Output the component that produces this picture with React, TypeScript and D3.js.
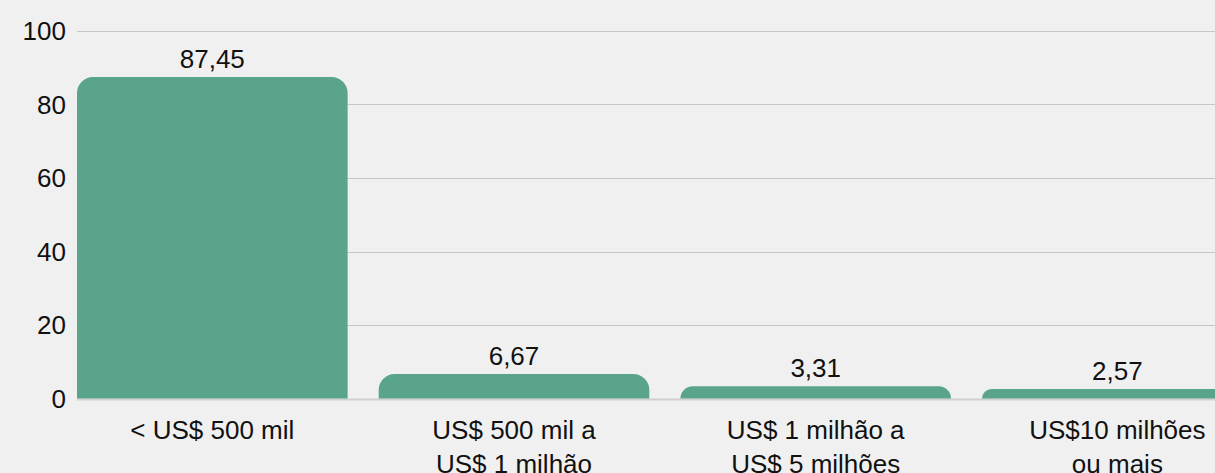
import React from "react";
import * as d3 from "d3";

const categories: string[][] = [
  ["< US$ 500 mil"],
  ["US$ 500 mil a", "US$ 1 milhão"],
  ["US$ 1 milhão a", "US$ 5 milhões"],
  ["US$10 milhões", "ou mais"],
];
const values: number[] = [87.45, 6.67, 3.31, 2.57];
const yTicks: number[] = [0, 20, 40, 60, 80, 100];

const W = 1215;
const H = 473;
const FONT = "'Liberation Sans', Arial, Helvetica, sans-serif";

function topRoundedBar(x: number, y: number, w: number, h: number, r: number) {
  const rr = Math.min(r, h, w / 2);
  const p = d3.path();
  p.moveTo(x, y + h);
  p.lineTo(x, y + rr);
  p.arcTo(x, y, x + rr, y, rr);
  p.lineTo(x + w - rr, y);
  p.arcTo(x + w, y, x + w, y + rr, rr);
  p.lineTo(x + w, y + h);
  p.closePath();
  return p.toString();
}

export default function App() {
  const x = d3
    .scaleBand<number>()
    .domain(d3.range(categories.length))
    .range([77, 1252.7])
    .paddingInner(0.103)
    .paddingOuter(0);
  const y = d3.scaleLinear().domain([0, 100]).range([398.5, 31]);
  const fmt = (v: number) => d3.format(".2f")(v).replace(".", ",");

  return (
    <svg
      width={W}
      height={H}
      style={{ position: "absolute", left: 0, top: 0 }}
      fontFamily={FONT}
    >
      <rect x={0} y={0} width={W} height={H} fill="#f0f0f0" />
      {yTicks.map((t) => (
        <g key={t}>
          <line
            x1={77}
            x2={W}
            y1={Math.round(y(t)) + 0.5}
            y2={Math.round(y(t)) + 0.5}
            stroke={t === 0 ? "#d0d0d0" : "#c6c6c6"}
            strokeWidth={t === 0 ? 2 : 1}
          />
          <text
            x={66}
            y={y(t)}
            textAnchor="end"
            dominantBaseline="central"
            fontSize={26}
            fill="#111"
          >
            {t}
          </text>
        </g>
      ))}
      {values.map((v, i) => {
        const bx = x(i)!;
        const bw = x.bandwidth();
        const top = y(v);
        const h = y(0) - top;
        return (
          <g key={i}>
            <path d={topRoundedBar(bx, top, bw, h, 16)} fill="#59a48b" />
            <text
              x={bx + bw / 2}
              y={top - 9}
              textAnchor="middle"
              fontSize={26}
              fill="#111"
            >
              {fmt(v)}
            </text>
            {categories[i].map((line, j) => (
              <text
                key={j}
                x={bx + bw / 2}
                y={439 + j * 34}
                textAnchor="middle"
                fontSize={26}
                fill="#111"
              >
                {line}
              </text>
            ))}
          </g>
        );
      })}
    </svg>
  );
}
